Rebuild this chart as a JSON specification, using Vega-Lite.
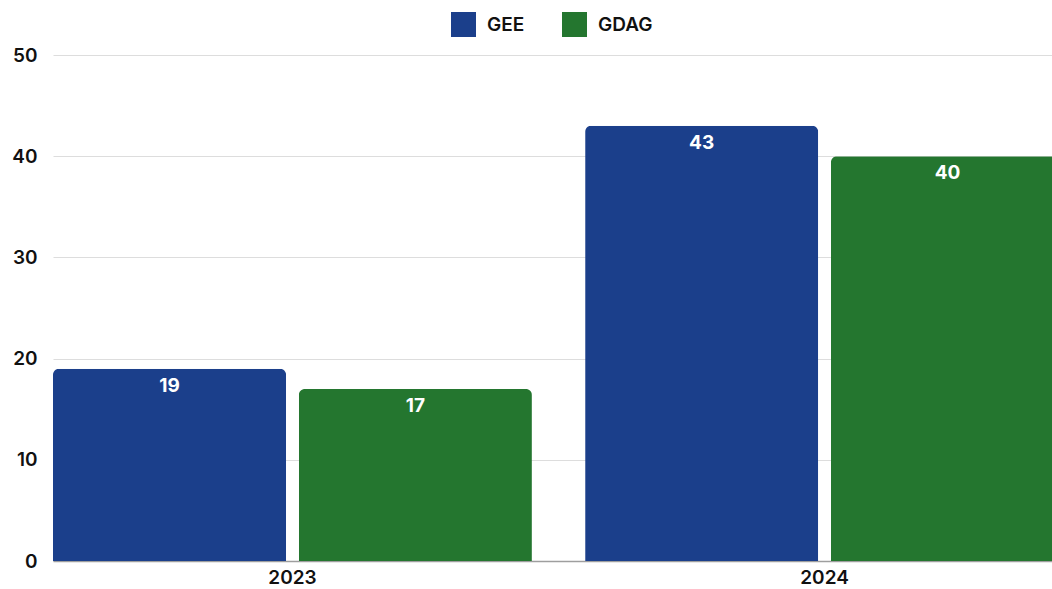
{
  "$schema": "https://vega.github.io/schema/vega-lite/v6.json",
  "width": 999,
  "height": 506,
  "autosize": {"type": "none"},
  "padding": {"left": 53, "top": 55, "right": 0, "bottom": 28},
  "background": "white",
  "config": {
    "view": {"stroke": null},
    "font": "Inter",
    "axis": {"labelFont": "Inter", "labelFontWeight": 600, "labelFontSize": 19, "labelColor": "#111111"}
  },
  "data": {
    "values": [
      {"year": "2023", "series": "GEE", "value": 19},
      {"year": "2023", "series": "GDAG", "value": 17},
      {"year": "2024", "series": "GEE", "value": 43},
      {"year": "2024", "series": "GDAG", "value": 40}
    ]
  },
  "encoding": {
    "x": {
      "field": "year", "type": "nominal",
      "scale": {"range": [0, 1011], "paddingInner": 0.1, "paddingOuter": 0},
      "axis": {"title": null, "labelAngle": 0, "ticks": false, "domain": true, "domainColor": "#9e9e9e", "domainWidth": 1.5, "labelPadding": 7, "grid": false}
    },
    "xOffset": {
      "field": "series", "type": "nominal",
      "sort": ["GEE", "GDAG"],
      "scale": {"paddingInner": 0.052, "paddingOuter": 0}
    },
    "y": {
      "field": "value", "type": "quantitative",
      "scale": {"domain": [0, 50], "nice": false},
      "axis": {"title": null, "values": [0, 10, 20, 30, 40, 50], "ticks": false, "domain": false, "gridColor": "#dddddd", "gridWidth": 1, "labelPadding": 16}
    }
  },
  "layer": [
    {
      "mark": {"type": "bar", "cornerRadiusTopLeft": 6, "cornerRadiusTopRight": 6},
      "encoding": {
        "color": {
          "field": "series", "type": "nominal",
          "sort": ["GEE", "GDAG"],
          "scale": {"domain": ["GEE", "GDAG"], "range": ["#1b3f8b", "#24762f"]},
          "legend": {
            "title": null,
            "orient": "none",
            "direction": "horizontal",
            "legendX": 398,
            "legendY": -43,
            "padding": 0,
            "symbolType": "square",
            "symbolSize": 625,
            "symbolStrokeWidth": 0,
            "labelFont": "Inter",
            "labelFontWeight": 600,
            "labelFontSize": 19,
            "labelColor": "#111111",
            "labelOffset": 11,
            "columnPadding": 37
          }
        }
      }
    },
    {
      "mark": {"type": "text", "baseline": "top", "dy": 8, "color": "white", "font": "Inter", "fontWeight": "bold", "fontSize": 19},
      "encoding": {"text": {"field": "value", "type": "quantitative"}}
    }
  ]
}
